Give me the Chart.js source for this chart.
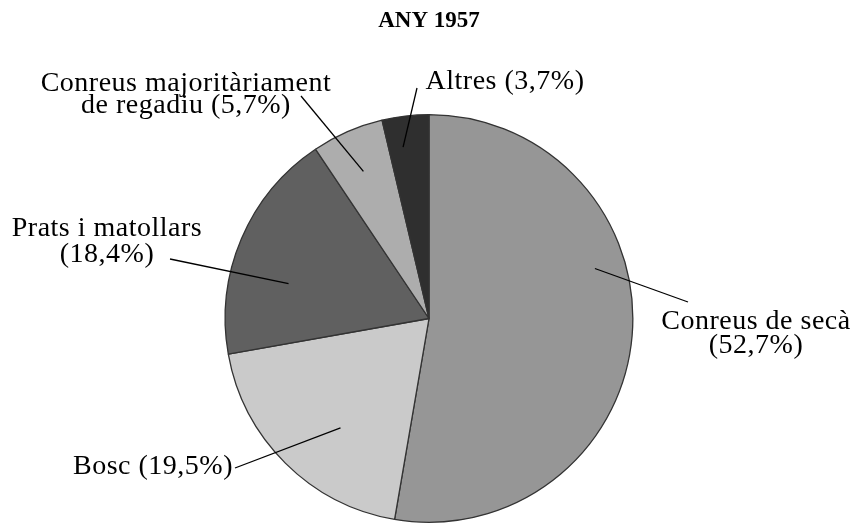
<!DOCTYPE html>
<html>
<head>
<meta charset="utf-8">
<script src="https://cdn.jsdelivr.net/npm/chart.js@4"></script>
<style>
html,body{margin:0;padding:0;background:#fff;}
#wrap{width:858px;height:525px;position:relative;}
</style>
</head>
<body>
<div id="wrap"><canvas id="c" width="858" height="525"></canvas></div>
<script>
// ---- data ----
const titleText = 'ANY 1957';
const categories = ['Conreus de secà', 'Bosc', 'Prats i matollars', 'Conreus majoritàriament de regadiu', 'Altres'];
const shares = [52.7, 19.5, 18.4, 5.7, 3.7];
const labelLines = [
  ['Conreus de secà', '(52,7%)'],
  ['Bosc (19,5%)'],
  ['Prats i matollars', '(18,4%)'],
  ['Conreus majoritàriament', 'de regadiu (5,7%)'],
  ['Altres (3,7%)']
];

// ---- styles / layout ----
const sliceColors = ['#969696', '#cacaca', '#606060', '#adadad', '#2f2f2f'];
// label text: center x, first baseline, line spacing
const labelLayout = [
  {x: 756, y: 329, dy: 24},
  {x: 153, y: 474, dy: 0},
  {x: 107, y: 236, dy: 26},
  {x: 186, y: 91, dy: 22},
  {x: 505, y: 89, dy: 0}
];
// leader line: text end point, and anchor inside slice (fraction of slice angle, fraction of radius)
const leaderLayout = [
  {tx: 688, ty: 302, af: 0.386, rf: 0.85},
  {tx: 235, ty: 468, af: 0.417, rf: 0.69},
  {tx: 170, ty: 259, af: 0.363, rf: 0.71},
  {tx: 301, ty: 96,  af: 0.478, rf: 0.79},
  {tx: 417, ty: 88,  af: 0.354, rf: 0.85}
];

const labelsPlugin = {
  id: 'pieLabels',
  afterDatasetsDraw(chart) {
    const ctx = chart.ctx;
    const meta = chart.getDatasetMeta(0);
    ctx.save();
    meta.data.forEach((arc, i) => {
      const p = arc.getProps(['x', 'y', 'startAngle', 'endAngle', 'outerRadius'], true);
      const L = leaderLayout[i];
      const ang = p.startAngle + (p.endAngle - p.startAngle) * L.af;
      const ax = p.x + Math.cos(ang) * p.outerRadius * L.rf;
      const ay = p.y + Math.sin(ang) * p.outerRadius * L.rf;
      ctx.strokeStyle = '#000';
      ctx.lineWidth = 1.3;
      ctx.beginPath();
      ctx.moveTo(L.tx, L.ty);
      ctx.lineTo(ax, ay);
      ctx.stroke();
    });
    ctx.fillStyle = '#000';
    ctx.font = '28px "Liberation Serif", "Times New Roman", serif';
    if ('letterSpacing' in ctx) ctx.letterSpacing = '0.5px';
    ctx.textAlign = 'center';
    ctx.textBaseline = 'alphabetic';
    labelLines.forEach((lines, i) => {
      const T = labelLayout[i];
      lines.forEach((t, k) => ctx.fillText(t, T.x, T.y + k * T.dy));
    });
    ctx.restore();
  }
};

new Chart(document.getElementById('c'), {
  type: 'pie',
  data: {
    labels: categories,
    datasets: [{
      data: shares,
      backgroundColor: sliceColors,
      borderColor: '#333333',
      borderWidth: 1.3,
      borderAlign: 'center'
    }]
  },
  options: {
    responsive: false,
    animation: false,
    devicePixelRatio: 1,
    layout: {padding: {top: 0, bottom: 2, left: 0, right: 0}},
    plugins: {
      legend: {display: false},
      tooltip: {enabled: false},
      title: {
        display: true,
        text: titleText,
        color: '#000',
        font: {family: '"Liberation Serif", "Times New Roman", serif', size: 23, weight: 'bold', lineHeight: 1.2},
        padding: {top: 7, bottom: 79.4}
      }
    }
  },
  plugins: [labelsPlugin]
});
</script>
</body>
</html>
